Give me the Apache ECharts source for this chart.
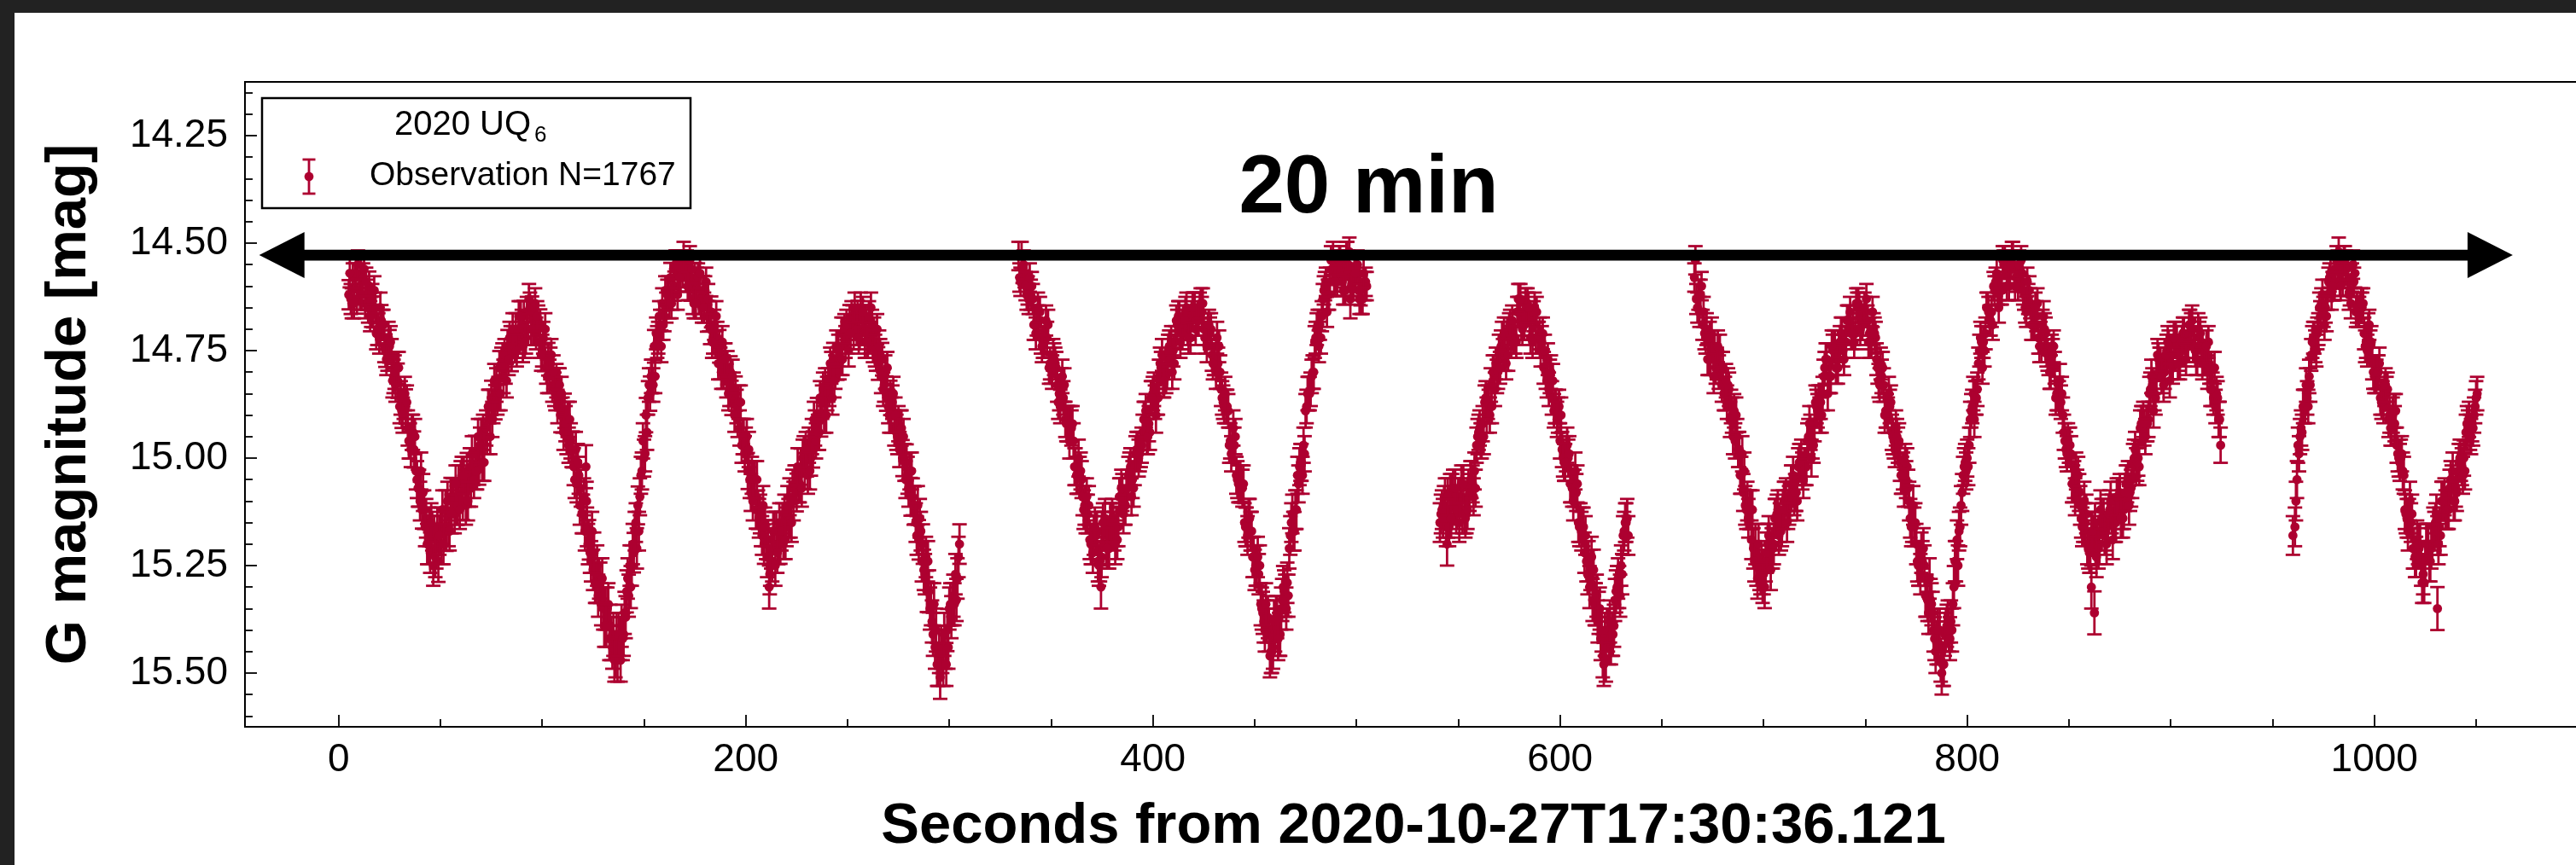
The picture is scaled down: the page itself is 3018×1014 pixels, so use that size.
<!DOCTYPE html>
<html>
<head>
<meta charset="utf-8">
<script src="https://cdn.jsdelivr.net/npm/echarts@6/dist/echarts.min.js"></script>
<style>
html,body{margin:0;padding:0;background:#fff;}
#c{width:3018px;height:1014px;}
</style>
</head>
<body>
<div id="c"></div>
<script>
// ---------------- DATA ----------------
// Each point: [seconds, G magnitude, 1-sigma error]
const segA = [
[5,14.62,.034],[7,14.58,.033],[9,14.63,.034],[11,14.57,.033],[13,14.64,.035],[15,14.60,.034],[17,14.66,.036],[19,14.70,.037],[21,14.68,.036],[23,14.75,.038],[25,14.74,.038],[27,14.81,.039],[29,14.82,.04],[31,14.89,.04],[33,14.88,.04],[35,14.96,.041],[37,14.98,.042],[39,15.07,.043],[41,15.12,.044],[43,15.14,.045],[45,15.22,.047],[47,15.18,.046],[49,15.24,.048],[51,15.12,.045],[53,15.17,.046],[55,15.09,.044],[57,15.13,.045],[59,15.06,.043],[61,15.10,.044],[63,15.03,.042],[65,15.07,.043],[67,14.99,.042],[69,15.02,.042],[71,14.94,.041],[73,14.95,.041],[75,14.86,.04],[77,14.87,.04],[79,14.79,.039],[81,14.81,.039],[83,14.74,.038],[85,14.76,.038],[87,14.70,.037],[89,14.72,.037],[91,14.67,.036],[93,14.70,.037],[95,14.66,.036],[97,14.71,.037],[99,14.69,.036],[101,14.76,.038],[103,14.77,.038],[105,14.83,.039],[107,14.82,.039],[109,14.90,.04],[111,14.89,.04],[113,14.97,.041],[115,14.98,.042],[117,15.06,.043],[119,15.07,.043],[121,15.17,.045],[121.5,15.02,.05],[123,15.19,.046],[125,15.26,.047],[127,15.25,.047],[129,15.34,.049],[131,15.35,.049],[133,15.42,.05],[135,15.41,.05],[137,15.47,.05],[139,15.39,.049],[141,15.37,.049],[143,15.25,.047],[145,15.22,.046],[147,15.11,.044],[149,15.03,.043],[151,14.90,.04],[153,14.85,.04],[155,14.74,.038],[157,14.72,.037],[159,14.64,.035],[161,14.65,.035],[163,14.58,.034],[165,14.60,.034],[167,14.55,.033],[169,14.57,.033],[171,14.55,.033],[173,14.60,.034],[175,14.58,.034],[177,14.63,.035],[179,14.61,.034],[181,14.67,.036],[183,14.66,.036],[185,14.73,.037],[187,14.74,.038],[189,14.80,.039],[191,14.79,.039],[193,14.86,.04],[195,14.85,.04],[197,14.93,.041],[199,14.95,.041],[201,15.03,.042],[203,15.04,.043],[205,15.12,.044],[207,15.13,.045],[209,15.20,.046],[211,15.19,.046],[211.5,15.30,.05],[213,15.24,.047],[215,15.17,.045],[217,15.20,.046],[219,15.13,.045],[221,15.14,.045],[223,15.07,.043],[225,15.08,.044],[227,15.02,.042],[229,15.03,.042],[231,14.97,.041],[233,14.98,.042],[235,14.90,.04],[237,14.91,.04],[239,14.83,.039],[241,14.84,.039],[243,14.77,.038],[245,14.78,.038],[247,14.71,.037],[249,14.73,.037],[251,14.68,.036],[253,14.71,.037],[255,14.67,.036],[257,14.70,.037],[259,14.68,.036],[261,14.72,.037],[263,14.71,.037],[265,14.78,.038],[267,14.77,.038],[269,14.85,.04],[271,14.86,.04],[273,14.93,.041],[275,14.92,.041],[277,15.00,.042],[279,15.01,.042],[281,15.09,.044],[283,15.11,.044],[285,15.19,.046],[287,15.20,.046],[289,15.31,.048],[291,15.34,.049],[293,15.44,.05],[295,15.45,.05],[297,15.48,.05],[299,15.40,.049],[301,15.37,.049],[303,15.27,.047],[305,15.20,.046],
[6,14.63,.035],[8,14.58,.033],[10,14.61,.033],[12,14.58,.033],[14,14.62,.035],[16,14.66,.035],[18,14.65,.035],[20,14.72,.037],[22,14.69,.035],[24,14.76,.037],[26,14.76,.037],[28,14.83,.039],[30,14.88,.039],[32,14.87,.039],[34,14.93,.041],[36,14.94,.041],[38,15.03,.043],[40,15.10,.045],[42,15.12,.045],[44,15.20,.047],[46,15.17,.045],[48,15.21,.047],[50,15.16,.045],[52,15.17,.045],[54,15.16,.045],[56,15.09,.043],[58,15.11,.045],[60,15.05,.043],[62,15.07,.043],[64,15.07,.043],[66,15.02,.043],[68,15.03,.043],[70,14.95,.041],[72,14.95,.041],[74,14.88,.039],[76,14.88,.039],[78,14.86,.039],[80,14.78,.037],[82,14.79,.037],[84,14.72,.037],[86,14.73,.037],[88,14.73,.037],[90,14.69,.035],[92,14.72,.037],[94,14.65,.035],[96,14.70,.037],[98,14.68,.035],[100,14.75,.037],[102,14.79,.037],[104,14.78,.037],[106,14.84,.039],[108,14.83,.039],[110,14.90,.041],[112,14.95,.041],[114,14.96,.041],[116,15.05,.043],[118,15.04,.043],[120,15.13,.045],[122,15.16,.045],[124,15.24,.047],[126,15.29,.047],[128,15.28,.047],[130,15.35,.049],[132,15.35,.049],[134,15.42,.05],[136,15.46,.05],[138,15.42,.05],[140,15.41,.05],[142,15.28,.047],[144,15.25,.047],[146,15.15,.045],[148,15.09,.043],[150,15.00,.043],[152,14.86,.039],[154,14.81,.039],[156,14.71,.037],[158,14.69,.035],[160,14.67,.035],[162,14.61,.033],[164,14.62,.035],[166,14.55,.033],[168,14.58,.033],[170,14.55,.033],[172,14.60,.033],[174,14.63,.035],[176,14.59,.033],[178,14.64,.035],[180,14.61,.033],[182,14.67,.035],[184,14.72,.037],[186,14.72,.037],[188,14.80,.039],[190,14.77,.037],[192,14.84,.039],[194,14.84,.039],[196,14.91,.041],[198,14.97,.041],[200,14.97,.041],[202,15.05,.043],[204,15.05,.043],[206,15.12,.045],[208,15.18,.045],[210,15.19,.045],[212,15.25,.047],[214,15.17,.045],[216,15.20,.047],[218,15.15,.045],[220,15.16,.045],[222,15.14,.045],[224,15.06,.043],[226,15.06,.043],[228,15.00,.043],[230,15.00,.043],[232,15.00,.041],[234,14.93,.041],[236,14.94,.041],[238,14.84,.039],[240,14.85,.039],[242,14.79,.037],[244,14.80,.039],[246,14.78,.037],[248,14.71,.037],[250,14.72,.037],[252,14.67,.035],[254,14.69,.035],[256,14.71,.037],[258,14.68,.035],[260,14.73,.037],[262,14.69,.035],[264,14.76,.037],[266,14.76,.037],[268,14.83,.039],[270,14.88,.039],[272,14.87,.039],[274,14.94,.041],[276,14.93,.041],[278,15.01,.043],[280,15.07,.043],[282,15.09,.043],[284,15.18,.045],[286,15.17,.045],[288,15.27,.047],[290,15.31,.049],[292,15.41,.05],[294,15.48,.05],[296,15.44,.05],[298,15.44,.05],[300,15.35,.049],[302,15.32,.049],[304,15.28,.047],
[6.5,14.64,.035],[8.5,14.57,.033],[10.5,14.62,.035],[12.5,14.56,.033],[14.5,14.65,.035],[16.5,14.63,.035],[18.5,14.71,.037],[20.5,14.65,.035],[22.5,14.74,.037],[24.5,14.72,.037],[26.5,14.82,.039],[28.5,14.79,.037],[30.5,14.86,.039],[32.5,14.85,.039],[34.5,14.96,.041],[36.5,14.94,.041],[38.5,15.05,.043],[40.5,15.03,.043],[42.5,15.16,.045],[44.5,15.16,.045],[46.5,15.25,.047],[48.5,15.16,.045],[50.5,15.20,.047],[52.5,15.12,.045],[54.5,15.17,.045],[56.5,15.09,.043],[58.5,15.11,.045],[60.5,15.04,.043],[62.5,15.11,.045],[64.5,15.02,.043],[66.5,15.05,.043],[68.5,14.95,.041],[70.5,15.01,.043],[72.5,14.93,.041],[74.5,14.95,.041],[76.5,14.82,.039],[78.5,14.85,.039],[80.5,14.77,.037],[82.5,14.82,.039],[84.5,14.73,.037],[86.5,14.74,.037],[88.5,14.67,.035],[90.5,14.74,.037],[92.5,14.66,.035],[94.5,14.70,.037],[96.5,14.64,.035],[98.5,14.73,.037],[100.5,14.72,.037],[102.5,14.81,.039],[104.5,14.76,.037],[106.5,14.85,.039],[108.5,14.83,.039],[110.5,14.94,.041],[112.5,14.91,.041],[114.5,14.98,.041],[116.5,14.98,.041],[118.5,15.11,.045],[120.5,15.09,.043],[122.5,15.20,.047],[124.5,15.17,.045],[126.5,15.29,.047],[128.5,15.29,.047],[130.5,15.39,.049],[132.5,15.34,.049],[134.5,15.44,.05],[136.5,15.41,.05],[138.5,15.47,.05],[140.5,15.36,.049],[142.5,15.32,.049],[144.5,15.20,.047],[146.5,15.21,.047],[148.5,15.04,.043],[150.5,14.99,.041],[152.5,14.83,.039],[154.5,14.83,.039],[156.5,14.73,.037],[158.5,14.74,.037],[160.5,14.61,.033],[162.5,14.64,.035],[164.5,14.56,.033],[166.5,14.62,.035],[168.5,14.55,.033],[170.5,14.58,.033],[172.5,14.54,.033],[174.5,14.64,.035],[176.5,14.58,.033],[178.5,14.65,.035],[180.5,14.59,.033],[182.5,14.70,.035],[184.5,14.69,.035],[186.5,14.78,.037],[188.5,14.73,.037],[190.5,14.82,.039],[192.5,14.80,.037],[194.5,14.90,.039],[196.5,14.87,.039],[198.5,14.95,.041],[200.5,14.95,.041],[202.5,15.08,.043],[204.5,15.05,.043],[206.5,15.14,.045],[208.5,15.11,.045],[210.5,15.23,.047],[212.5,15.21,.047],[214.5,15.25,.047],[216.5,15.15,.045],[218.5,15.19,.045],[220.5,15.11,.045],[222.5,15.15,.045],[224.5,15.06,.043],[226.5,15.06,.043],[228.5,14.99,.041],[230.5,15.04,.043],[232.5,14.95,.041],[234.5,14.96,.041],[236.5,14.86,.039],[238.5,14.90,.041],[240.5,14.83,.039],[242.5,14.86,.039],[244.5,14.74,.037],[246.5,14.77,.037],[248.5,14.70,.035],[250.5,14.75,.037],[252.5,14.68,.035],[254.5,14.70,.037],[256.5,14.65,.035],[258.5,14.73,.037],[260.5,14.67,.035],[262.5,14.74,.037],[264.5,14.70,.035],[266.5,14.81,.039],[268.5,14.80,.039],[270.5,14.90,.041],[272.5,14.85,.039],[274.5,14.95,.041],[276.5,14.93,.041],[278.5,15.05,.043],[280.5,15.03,.043],[282.5,15.11,.045],[284.5,15.11,.045],[286.5,15.24,.047],[288.5,15.23,.047],[290.5,15.35,.049],[292.5,15.34,.049],[294.5,15.48,.05],[296.5,15.45,.05],[298.5,15.48,.05],[300.5,15.34,.049],[302.5,15.34,.049],[304.5,15.23,.047],
[5.5,14.57,.033],[7.5,14.64,.035],[9.5,14.55,.033],[11.5,14.62,.035],[13.5,14.59,.033],[15.5,14.67,.035],[17.5,14.61,.033],[19.5,14.70,.037],[21.5,14.69,.035],[23.5,14.77,.037],[25.5,14.73,.037],[27.5,14.80,.039],[29.5,14.79,.037],[31.5,14.90,.041],[33.5,14.87,.039],[35.5,14.98,.041],[37.5,14.95,.041],[39.5,15.07,.043],[41.5,15.08,.043],[43.5,15.20,.047],[45.5,15.15,.045],[47.5,15.23,.047],[49.5,15.18,.045],[51.5,15.20,.047],[53.5,15.10,.045],[55.5,15.13,.045],[57.5,15.06,.043],[59.5,15.12,.045],[61.5,15.04,.043],[63.5,15.10,.045],[65.5,14.99,.041],[67.5,15.03,.043],[69.5,14.97,.041],[71.5,15.01,.043],[73.5,14.88,.039],[75.5,14.91,.041],[77.5,14.83,.039],[79.5,14.85,.039],[81.5,14.76,.037],[83.5,14.77,.037],[85.5,14.70,.037],[87.5,14.75,.037],[89.5,14.67,.035],[91.5,14.73,.037],[93.5,14.63,.035],[95.5,14.70,.037],[97.5,14.67,.035],[99.5,14.76,.037],[101.5,14.70,.037],[103.5,14.81,.039],[105.5,14.80,.039],[107.5,14.88,.039],[109.5,14.85,.039],[111.5,14.92,.041],[113.5,14.91,.041],[115.5,15.02,.043],[117.5,15.01,.043],[119.5,15.13,.045],[121.8,15.10,.045],[123.5,15.22,.047],[125.5,15.22,.047],[127.5,15.32,.049],[129.5,15.28,.047],[131.5,15.39,.049],[133.5,15.39,.049],[135.5,15.47,.05],[137.5,15.41,.05],[139.5,15.42,.05],[141.5,15.31,.049],[143.5,15.30,.049],[145.5,15.17,.045],[147.5,15.17,.045],[149.5,14.96,.041],[151.5,14.94,.041],[153.5,14.81,.039],[155.5,14.81,.039],[157.5,14.67,.035],[159.5,14.69,.035],[161.5,14.62,.035],[163.5,14.64,.035],[165.5,14.55,.033],[167.5,14.58,.033],[169.5,14.53,.033],[171.5,14.60,.033],[173.5,14.56,.033],[175.5,14.64,.035],[177.5,14.57,.033],[179.5,14.65,.035],[181.5,14.63,.035],[183.5,14.73,.037],[185.5,14.67,.035],[187.5,14.78,.037],[189.5,14.77,.037],[191.5,14.85,.039],[193.5,14.81,.039],[195.5,14.88,.039],[197.5,14.87,.039],[199.5,14.99,.041],[201.5,14.98,.041],[203.5,15.10,.045],[205.5,15.05,.043],[207.5,15.16,.045],[209.5,15.16,.045],[211.8,15.27,.047],[213.5,15.17,.045],[215.5,15.22,.047],[217.5,15.17,.045],[219.5,15.19,.045],[221.5,15.09,.043],[223.5,15.10,.045],[225.5,15.02,.043],[227.5,15.07,.043],[229.5,14.98,.041],[231.5,15.03,.043],[233.5,14.91,.041],[235.5,14.94,.041],[237.5,14.87,.039],[239.5,14.90,.041],[241.5,14.78,.037],[243.5,14.82,.039],[245.5,14.75,.037],[247.5,14.77,.037],[249.5,14.69,.035],[251.5,14.71,.037],[253.5,14.65,.035],[255.5,14.72,.037],[257.5,14.66,.035],[259.5,14.73,.037],[261.5,14.65,.035],[263.5,14.75,.037],[265.5,14.74,.037],[267.5,14.84,.039],[269.5,14.79,.037],[271.5,14.90,.041],[273.5,14.90,.041],[275.5,14.98,.041],[277.5,14.95,.041],[279.5,15.04,.043],[281.5,15.03,.043],[283.5,15.15,.045],[285.5,15.14,.045],[287.5,15.26,.047],[289.5,15.24,.047],[291.5,15.38,.049],[293.5,15.40,.05],[295.5,15.51,.05],[297.5,15.41,.05],[299.5,15.44,.05],[301.5,15.34,.049],[303.5,15.33,.049]
];
const segB = [
[334,14.53,.033],[336,14.56,.033],[338,14.62,.035],[340,14.62,.035],[342,14.69,.035],[344,14.68,.035],[346,14.73,.037],[348,14.72,.037],[350,14.79,.037],[352,14.78,.037],[354,14.85,.039],[356,14.86,.039],[358,14.92,.041],[360,14.93,.041],[362,15.02,.043],[364,15.04,.043],[366,15.12,.045],[368,15.13,.045],[370,15.20,.047],[372,15.18,.045],[374,15.24,.047],[374.5,15.30,.05],[376,15.17,.045],[378,15.20,.047],[380,15.14,.045],[382,15.16,.045],[384,15.09,.043],[386,15.11,.045],[388,15.04,.043],[390,15.05,.043],[392,14.98,.041],[394,14.98,.041],[396,14.91,.041],[398,14.92,.041],[400,14.85,.039],[402,14.86,.039],[404,14.79,.037],[406,14.80,.039],[408,14.74,.037],[410,14.75,.037],[412,14.69,.035],[414,14.71,.037],[416,14.66,.035],[418,14.69,.035],[420,14.65,.035],[422,14.68,.035],[424,14.66,.035],[426,14.72,.037],[428,14.71,.037],[430,14.77,.037],[432,14.78,.037],[434,14.86,.039],[436,14.88,.039],[438,14.96,.041],[440,14.97,.041],[442,15.06,.043],[444,15.07,.043],[446,15.16,.045],[448,15.17,.045],[450,15.26,.047],[452,15.27,.047],[454,15.36,.049],[456,15.38,.049],[458,15.45,.05],[460,15.40,.05],[462,15.41,.05],[464,15.30,.049],[466,15.29,.047],[468,15.15,.045],[470,15.12,.045],[472,15.02,.043],[474,14.97,.041],[476,14.85,.039],[478,14.81,.039],[480,14.72,.037],[482,14.69,.035],[484,14.61,.033],[486,14.62,.035],[488,14.56,.033],[490,14.58,.033],[492,14.54,.033],[494,14.57,.033],[496,14.55,.033],[497,14.63,.045],[498,14.59,.033],[500,14.56,.033],[502,14.61,.035],[504,14.60,.033],
[335,14.59,.033],[337,14.57,.033],[339,14.63,.035],[341,14.63,.035],[343,14.68,.035],[345,14.72,.037],[347,14.72,.037],[349,14.79,.037],[351,14.76,.037],[353,14.83,.039],[355,14.83,.039],[357,14.91,.041],[359,14.96,.041],[361,14.96,.041],[363,15.04,.043],[365,15.05,.043],[367,15.13,.045],[369,15.19,.045],[371,15.18,.045],[373,15.24,.047],[375,15.17,.045],[377,15.20,.047],[379,15.15,.045],[381,15.17,.045],[383,15.16,.045],[385,15.08,.043],[387,15.09,.043],[389,15.02,.043],[391,15.02,.043],[393,15.00,.043],[395,14.94,.041],[397,14.95,.041],[399,14.86,.039],[401,14.87,.039],[403,14.81,.039],[405,14.82,.039],[407,14.80,.039],[409,14.73,.037],[411,14.73,.037],[413,14.67,.035],[415,14.69,.035],[417,14.70,.037],[419,14.67,.035],[421,14.70,.037],[423,14.65,.035],[425,14.70,.037],[427,14.70,.037],[429,14.76,.037],[431,14.80,.039],[433,14.80,.039],[435,14.88,.039],[437,14.89,.039],[439,14.97,.041],[441,15.04,.043],[443,15.06,.043],[445,15.15,.045],[447,15.14,.045],[449,15.23,.047],[451,15.25,.047],[453,15.34,.049],[455,15.40,.05],[457,15.40,.05],[459,15.44,.05],[461,15.37,.049],[463,15.35,.049],[465,15.32,.049],[467,15.21,.047],[469,15.17,.045],[471,15.04,.043],[473,15.01,.043],[475,14.89,.039],[477,14.85,.039],[479,14.80,.039],[481,14.69,.035],[483,14.67,.035],[485,14.59,.033],[487,14.59,.033],[489,14.59,.033],[491,14.55,.033],[493,14.59,.033],[495,14.53,.033],[497,14.58,.033],[499,14.56,.033],[501,14.61,.033],[503,14.63,.035],[505,14.60,.033],
[334.5,14.58,.033],[336.5,14.55,.033],[338.5,14.61,.033],[340.5,14.60,.033],[342.5,14.71,.037],[344.5,14.66,.035],[346.5,14.73,.037],[348.5,14.69,.035],[350.5,14.80,.039],[352.5,14.79,.037],[354.5,14.88,.039],[356.5,14.83,.039],[358.5,14.92,.041],[360.5,14.92,.041],[362.5,15.04,.043],[364.5,15.03,.043],[366.5,15.11,.045],[368.5,15.11,.045],[370.5,15.22,.047],[372.5,15.17,.045],[374.8,15.23,.047],[376.5,15.14,.045],[378.5,15.21,.047],[380.5,15.15,.045],[382.5,15.19,.045],[384.5,15.07,.043],[386.5,15.11,.045],[388.5,15.03,.043],[390.5,15.07,.043],[392.5,14.98,.041],[394.5,14.97,.041],[396.5,14.89,.039],[398.5,14.94,.041],[400.5,14.84,.039],[402.5,14.86,.039],[404.5,14.76,.037],[406.5,14.81,.039],[408.5,14.75,.037],[410.5,14.78,.037],[412.5,14.67,.035],[414.5,14.71,.037],[416.5,14.65,.035],[418.5,14.72,.037],[420.5,14.65,.035],[422.5,14.68,.035],[424.5,14.64,.035],[426.5,14.74,.037],[428.5,14.70,.037],[430.5,14.77,.037],[432.5,14.74,.037],[434.5,14.87,.039],[436.5,14.88,.039],[438.5,14.99,.041],[440.5,14.95,.041],[442.5,15.06,.043],[444.5,15.06,.043],[446.5,15.18,.045],[448.5,15.17,.045],[450.5,15.25,.047],[452.5,15.25,.047],[454.5,15.38,.049],[456.5,15.37,.049],[458.5,15.45,.05],[460.5,15.37,.049],[462.5,15.41,.05],[464.5,15.31,.049],[466.5,15.32,.049],[468.5,15.13,.045],[470.5,15.12,.045],[472.5,15.01,.043],[474.5,14.99,.041],[476.5,14.85,.039],[478.5,14.80,.039],[480.5,14.70,.037],[482.5,14.72,.037],[484.5,14.60,.033],[486.5,14.62,.035],[488.5,14.53,.033],[490.5,14.59,.033],[492.5,14.55,.033],[494.5,14.61,.033],[496.5,14.52,.033],[498.5,14.59,.033],[500.5,14.55,.033],[502.5,14.63,.035],[504.5,14.59,.033],
[335.5,14.53,.033],[337.5,14.60,.033],[339.5,14.58,.033],[341.5,14.69,.035],[343.5,14.65,.035],[345.5,14.74,.037],[347.5,14.68,.035],[349.5,14.78,.037],[351.5,14.77,.037],[353.5,14.87,.039],[355.5,14.81,.039],[357.5,14.92,.041],[359.5,14.92,.041],[361.5,15.02,.043],[363.5,15.00,.043],[365.5,15.09,.043],[367.5,15.09,.043],[369.5,15.20,.047],[371.5,15.16,.045],[373.5,15.25,.047],[375.5,15.15,.045],[377.5,15.21,.047],[379.5,15.15,.045],[381.5,15.20,.047],[383.5,15.09,.043],[385.5,15.13,.045],[387.5,15.07,.043],[389.5,15.09,.043],[391.5,14.99,.041],[393.5,14.99,.041],[395.5,14.91,.041],[397.5,14.95,.041],[399.5,14.86,.039],[401.5,14.90,.041],[403.5,14.78,.037],[405.5,14.82,.039],[407.5,14.75,.037],[409.5,14.80,.039],[411.5,14.68,.035],[413.5,14.73,.037],[415.5,14.68,.035],[417.5,14.72,.037],[419.5,14.65,.035],[421.5,14.68,.035],[423.5,14.64,.035],[425.5,14.72,.037],[427.5,14.69,.035],[429.5,14.78,.037],[431.5,14.72,.037],[433.5,14.84,.039],[435.5,14.85,.039],[437.5,14.97,.041],[439.5,14.93,.041],[441.5,15.05,.043],[443.5,15.06,.043],[445.5,15.16,.045],[447.5,15.14,.045],[449.5,15.23,.047],[451.5,15.23,.047],[453.5,15.35,.049],[455.5,15.34,.049],[457.5,15.46,.05],[459.5,15.38,.049],[461.5,15.42,.05],[463.5,15.33,.049],[465.5,15.35,.049],[467.5,15.18,.045],[469.5,15.17,.045],[471.5,15.06,.043],[473.5,15.04,.043],[475.5,14.88,.039],[477.5,14.84,.039],[479.5,14.73,.037],[481.5,14.74,.037],[483.5,14.63,.035],[485.5,14.66,.035],[487.5,14.54,.033],[489.5,14.59,.033],[491.5,14.54,.033],[493.5,14.61,.033],[495.5,14.53,.033],[497.5,14.60,.033],[499.5,14.57,.033],[501.5,14.63,.035],[503.5,14.57,.033]
];
const segC = [
[541,15.15,.045],[543,15.11,.045],[544.5,15.20,.05],[545,15.14,.045],[547,15.08,.043],[549,15.13,.045],[551,15.09,.043],[553,15.13,.045],[555,15.07,.043],[557,15.06,.043],[559,14.97,.041],[561,14.96,.041],[563,14.87,.039],[565,14.88,.039],[567,14.80,.039],[569,14.81,.039],[571,14.74,.037],[573,14.76,.037],[575,14.70,.037],[577,14.72,.037],[579,14.66,.035],[581,14.69,.035],[583,14.64,.035],[585,14.68,.035],[587,14.67,.035],[589,14.72,.037],[591,14.73,.037],[593,14.80,.039],[595,14.81,.039],[597,14.89,.039],[599,14.90,.041],[601,14.98,.041],[603,14.99,.041],[605,15.06,.043],[607,15.07,.043],[609,15.15,.045],[611,15.16,.045],[613,15.24,.047],[615,15.26,.047],[617,15.34,.049],[619,15.36,.049],[621,15.46,.05],[623,15.40,.05],[625,15.43,.05],[627,15.33,.049],[629,15.30,.049],[631,15.18,.045],[633,15.14,.045],
[542,15.12,.045],[544,15.16,.045],[546,15.08,.043],[548,15.11,.045],[550,15.09,.043],[552,15.13,.045],[554,15.13,.045],[556,15.05,.043],[558,15.03,.043],[560,14.94,.041],[562,14.92,.041],[564,14.90,.041],[566,14.83,.039],[568,14.84,.039],[570,14.75,.037],[572,14.76,.037],[574,14.71,.037],[576,14.73,.037],[578,14.72,.037],[580,14.66,.035],[582,14.68,.035],[584,14.64,.035],[586,14.68,.035],[588,14.72,.037],[590,14.71,.037],[592,14.79,.037],[594,14.77,.037],[596,14.86,.039],[598,14.88,.039],[600,14.96,.041],[602,15.01,.043],[604,15.00,.043],[606,15.07,.043],[608,15.08,.043],[610,15.15,.045],[612,15.22,.047],[614,15.24,.047],[616,15.33,.049],[618,15.32,.049],[620,15.42,.05],[622,15.41,.05],[624,15.43,.05],[626,15.41,.05],[628,15.30,.049],[630,15.25,.047],[632,15.15,.045],
[541.5,15.13,.045],[543.5,15.09,.043],[545.5,15.16,.045],[547.5,15.07,.043],[549.5,15.12,.045],[551.5,15.06,.043],[553.5,15.14,.045],[555.5,15.08,.043],[557.5,15.09,.043],[559.5,14.95,.041],[561.5,14.96,.041],[563.5,14.86,.039],[565.5,14.90,.041],[567.5,14.80,.039],[569.5,14.80,.039],[571.5,14.72,.037],[573.5,14.78,.037],[575.5,14.69,.035],[577.5,14.72,.037],[579.5,14.63,.035],[581.5,14.70,.037],[583.5,14.65,.035],[585.5,14.72,.037],[587.5,14.65,.035],[589.5,14.72,.037],[591.5,14.71,.037],[593.5,14.82,.039],[595.5,14.80,.039],[597.5,14.88,.039],[599.5,14.88,.039],[601.5,15.00,.043],[603.5,14.97,.041],[605.5,15.06,.043],[607.5,15.03,.043],[609.5,15.16,.045],[611.5,15.16,.045],[613.5,15.27,.047],[615.5,15.23,.047],[617.5,15.34,.049],[619.5,15.35,.049],[621.5,15.48,.05],[623.5,15.40,.05],[625.5,15.41,.05],[627.5,15.31,.049],[629.5,15.32,.049],[631.5,15.17,.045],[633.5,15.18,.045],
[542.5,15.14,.045],[544.8,15.09,.043],[546.5,15.14,.045],[548.5,15.07,.043],[550.5,15.15,.045],[552.5,15.06,.043],[554.5,15.12,.045],[556.5,15.05,.043],[558.5,15.07,.043],[560.5,14.93,.041],[562.5,14.95,.041],[564.5,14.87,.039],[566.5,14.88,.039],[568.5,14.78,.037],[570.5,14.79,.037],[572.5,14.71,.037],[574.5,14.76,.037],[576.5,14.68,.035],[578.5,14.73,.037],[580.5,14.63,.035],[582.5,14.69,.035],[584.5,14.65,.035],[586.5,14.73,.037],[588.5,14.66,.035],[590.5,14.75,.037],[592.5,14.75,.037],[594.5,14.84,.039],[596.5,14.82,.039],[598.5,14.91,.041],[600.5,14.90,.041],[602.5,15.01,.043],[604.5,14.99,.041],[606.5,15.10,.045],[608.5,15.06,.043],[610.5,15.17,.045],[612.5,15.18,.045],[614.5,15.30,.049],[616.5,15.26,.047],[618.5,15.38,.049],[620.5,15.40,.05],[622.5,15.47,.05],[624.5,15.38,.049],[626.5,15.39,.049],[628.5,15.28,.047],[630.5,15.27,.047],[632.5,15.15,.045]
];
const segD = [
[666,14.58,.033],[668,14.62,.035],[670,14.69,.035],[672,14.70,.037],[674,14.77,.037],[676,14.75,.037],[678,14.80,.039],[680,14.79,.037],[682,14.87,.039],[684,14.88,.039],[686,14.96,.041],[688,14.98,.041],[690,15.08,.043],[692,15.10,.045],[694,15.19,.045],[696,15.20,.047],[698,15.26,.047],[700,15.27,.047],[702,15.20,.047],[704,15.21,.047],[706,15.14,.045],[708,15.15,.045],[710,15.10,.045],[712,15.12,.045],[714,15.06,.043],[716,15.08,.043],[718,15.01,.043],[720,15.02,.043],[722,14.95,.041],[724,14.96,.041],[726,14.88,.039],[728,14.87,.039],[730,14.79,.037],[732,14.81,.039],[734,14.75,.037],[736,14.77,.037],[738,14.71,.037],[740,14.73,.037],[742,14.68,.035],[744,14.70,.037],[746,14.65,.035],[748,14.69,.035],[750,14.66,.035],[752,14.71,.037],[754,14.70,.037],[756,14.79,.037],[758,14.81,.039],[760,14.89,.039],[762,14.88,.039],[764,14.96,.041],[766,14.97,.041],[768,15.04,.043],[770,15.05,.043],[772,15.14,.045],[774,15.16,.045],[776,15.25,.047],[778,15.24,.047],[780,15.32,.049],[782,15.33,.049],[784,15.42,.05],[786,15.43,.05],[788,15.48,.05],[790,15.39,.049],[792,15.38,.049],[794,15.24,.047],[796,15.17,.045],[798,15.04,.043],[800,15.00,.043],[802,14.89,.039],[804,14.86,.039],[806,14.75,.037],[808,14.73,.037],[810,14.65,.035],[812,14.66,.035],[814,14.59,.033],[816,14.60,.033],[818,14.55,.033],[820,14.57,.033],[822,14.53,.033],[824,14.58,.033],[826,14.56,.033],[828,14.62,.035],[830,14.63,.035],[832,14.69,.035],[834,14.67,.035],[836,14.72,.037],[838,14.70,.037],[840,14.77,.037],[842,14.76,.037],[844,14.85,.039],[846,14.87,.039],[848,14.96,.041],[850,14.97,.041],[852,15.06,.043],[854,15.07,.043],[856,15.14,.045],[858,15.15,.045],[860,15.22,.047],[861,15.30,.05],[862,15.18,.045],[862.5,15.36,.05],[864,15.20,.047],[866,15.14,.045],[868,15.17,.045],[870,15.12,.045],[872,15.15,.045],[874,15.10,.045],[876,15.12,.045],[878,15.06,.043],[880,15.08,.043],[882,15.00,.043],[884,15.00,.041],[886,14.92,.041],[888,14.92,.041],[890,14.84,.039],[892,14.85,.039],[894,14.77,.037],[896,14.80,.039],[898,14.75,.037],[900,14.78,.037],[902,14.73,.037],[904,14.76,.037],[906,14.71,.037],[908,14.74,.037],[910,14.70,.037],[912,14.75,.037],[914,14.72,.037],[916,14.77,.037],[918,14.80,.039],[920,14.79,.037],[922,14.88,.039],[924,14.91,.041],
[667,14.63,.035],[669,14.62,.035],[671,14.71,.037],[673,14.77,.037],[675,14.74,.037],[677,14.78,.037],[679,14.79,.037],[681,14.85,.039],[683,14.84,.039],[685,14.95,.041],[687,14.95,.041],[689,15.04,.043],[691,15.11,.045],[693,15.12,.045],[695,15.21,.047],[697,15.28,.047],[699,15.25,.047],[701,15.24,.047],[703,15.20,.047],[705,15.20,.047],[707,15.12,.045],[709,15.16,.045],[711,15.09,.043],[713,15.10,.045],[715,15.09,.043],[717,15.02,.043],[719,15.03,.043],[721,15.02,.043],[723,14.94,.041],[725,14.92,.041],[727,14.87,.039],[729,14.85,.039],[731,14.77,.037],[733,14.81,.039],[735,14.74,.037],[737,14.75,.037],[739,14.75,.037],[741,14.68,.035],[743,14.71,.037],[745,14.71,.037],[747,14.65,.035],[749,14.68,.035],[751,14.68,.035],[753,14.73,.037],[755,14.72,.037],[757,14.83,.039],[759,14.83,.039],[761,14.90,.041],[763,14.94,.041],[765,14.93,.041],[767,15.01,.043],[769,15.07,.043],[771,15.07,.043],[773,15.15,.045],[775,15.20,.047],[777,15.27,.047],[779,15.25,.047],[781,15.36,.049],[783,15.36,.049],[785,15.43,.05],[787,15.47,.05],[789,15.41,.05],[791,15.40,.05],[793,15.34,.049],[795,15.19,.045],[797,15.11,.045],[799,15.01,.043],[801,14.97,.041],[803,14.85,.039],[805,14.84,.039],[807,14.73,.037],[809,14.71,.037],[811,14.68,.035],[813,14.60,.033],[815,14.61,.033],[817,14.61,.033],[819,14.55,.033],[821,14.56,.033],[823,14.55,.033],[825,14.60,.033],[827,14.57,.033],[829,14.66,.035],[831,14.64,.035],[833,14.69,.035],[835,14.72,.037],[837,14.69,.035],[839,14.75,.037],[841,14.80,.039],[843,14.79,.037],[845,14.86,.039],[847,14.90,.041],[849,14.99,.041],[851,14.99,.041],[853,15.09,.043],[855,15.08,.043],[857,15.15,.045],[859,15.20,.047],[861,15.17,.045],[863,15.20,.047],[865,15.20,.047],[867,15.14,.045],[869,15.15,.045],[871,15.13,.045],[873,15.15,.045],[875,15.08,.043],[877,15.12,.045],[879,15.05,.043],[881,15.05,.043],[883,15.02,.043],[885,14.93,.041],[887,14.93,.041],[889,14.91,.041],[891,14.83,.039],[893,14.81,.039],[895,14.78,.037],[897,14.80,.039],[899,14.74,.037],[901,14.79,.037],[903,14.73,.037],[905,14.75,.037],[907,14.75,.037],[909,14.69,.035],[911,14.74,.037],[913,14.77,.037],[915,14.73,.037],[917,14.77,.037],[919,14.79,.037],[921,14.86,.039],[923,14.86,.039],
[666.5,14.54,.033],[668.5,14.66,.035],[670.5,14.66,.035],[672.5,14.77,.037],[674.5,14.71,.037],[676.5,14.79,.037],[678.5,14.75,.037],[680.5,14.85,.039],[682.5,14.83,.039],[684.5,14.90,.041],[686.5,14.90,.041],[688.5,15.04,.043],[690.5,15.03,.043],[692.5,15.14,.045],[694.5,15.12,.045],[696.5,15.25,.047],[698.5,15.27,.047],[700.5,15.30,.049],[702.5,15.18,.045],[704.5,15.21,.047],[706.5,15.13,.045],[708.5,15.17,.045],[710.5,15.10,.045],[712.5,15.11,.045],[714.5,15.04,.043],[716.5,15.10,.045],[718.5,15.00,.043],[720.5,15.02,.043],[722.5,14.92,.041],[724.5,14.97,.041],[726.5,14.89,.039],[728.5,14.90,.041],[730.5,14.77,.037],[732.5,14.81,.039],[734.5,14.74,.037],[736.5,14.79,.037],[738.5,14.71,.037],[740.5,14.73,.037],[742.5,14.66,.035],[744.5,14.73,.037],[746.5,14.64,.035],[748.5,14.69,.035],[750.5,14.63,.035],[752.5,14.73,.037],[754.5,14.71,.037],[756.5,14.82,.039],[758.5,14.79,.037],[760.5,14.89,.039],[762.5,14.87,.039],[764.5,14.98,.041],[766.5,14.96,.041],[768.5,15.03,.043],[770.5,15.02,.043],[772.5,15.16,.045],[774.5,15.15,.045],[776.5,15.25,.047],[778.5,15.21,.047],[780.5,15.33,.049],[782.5,15.34,.049],[784.5,15.45,.05],[786.5,15.40,.05],[788.5,15.48,.05],[790.5,15.38,.049],[792.5,15.40,.05],[794.5,15.24,.047],[796.5,15.16,.045],[798.5,15.02,.043],[800.5,15.02,.043],[802.5,14.88,.039],[804.5,14.86,.039],[806.5,14.72,.037],[808.5,14.75,.037],[810.5,14.66,.035],[812.5,14.69,.035],[814.5,14.57,.033],[816.5,14.61,.033],[818.5,14.54,.033],[820.5,14.60,.033],[822.5,14.53,.033],[824.5,14.58,.033],[826.5,14.54,.033],[828.5,14.65,.035],[830.5,14.61,.033],[832.5,14.69,.035],[834.5,14.64,.035],[836.5,14.74,.037],[838.5,14.71,.037],[840.5,14.80,.039],[842.5,14.74,.037],[844.5,14.85,.039],[846.5,14.85,.039],[848.5,14.98,.041],[850.5,14.97,.041],[852.5,15.05,.043],[854.5,15.04,.043],[856.5,15.16,.045],[858.5,15.13,.045],[860.5,15.22,.047],[862.8,15.15,.045],[864.5,15.21,.047],[866.5,15.15,.045],[868.5,15.20,.047],[870.5,15.10,.045],[872.5,15.15,.045],[874.5,15.09,.043],[876.5,15.14,.045],[878.5,15.06,.043],[880.5,15.07,.043],[882.5,14.98,.041],[884.5,15.02,.043],[886.5,14.91,.041],[888.5,14.92,.041],[890.5,14.81,.039],[892.5,14.86,.039],[894.5,14.78,.037],[896.5,14.83,.039],[898.5,14.73,.037],[900.5,14.78,.037],[902.5,14.72,.037],[904.5,14.78,.037],[906.5,14.71,.037],[908.5,14.73,.037],[910.5,14.68,.035],[912.5,14.77,.037],[914.5,14.71,.037],[916.5,14.77,.037],[918.5,14.73,.037],[920.5,14.84,.039],[922.5,14.85,.039],[924.5,14.97,.041],
[667.5,14.65,.035],[669.5,14.60,.033],[671.5,14.72,.037],[673.5,14.72,.037],[675.5,14.81,.039],[677.5,14.74,.037],[679.5,14.83,.039],[681.5,14.82,.039],[683.5,14.91,.041],[685.5,14.89,.039],[687.5,14.98,.041],[689.5,14.99,.041],[691.5,15.12,.045],[693.5,15.12,.045],[695.5,15.24,.047],[697.5,15.20,.047],[699.5,15.29,.047],[701.5,15.22,.047],[703.5,15.26,.047],[705.5,15.14,.045],[707.5,15.18,.045],[709.5,15.12,.045],[711.5,15.15,.045],[713.5,15.06,.043],[715.5,15.08,.043],[717.5,15.01,.043],[719.5,15.05,.043],[721.5,14.96,.041],[723.5,15.00,.043],[725.5,14.87,.039],[727.5,14.90,.041],[729.5,14.81,.039],[731.5,14.85,.039],[733.5,14.74,.037],[735.5,14.79,.037],[737.5,14.73,.037],[739.5,14.77,.037],[741.5,14.68,.035],[743.5,14.71,.037],[745.5,14.64,.035],[747.5,14.70,.037],[749.5,14.65,.035],[751.5,14.73,.037],[753.5,14.66,.035],[755.5,14.77,.037],[757.5,14.78,.037],[759.5,14.90,.041],[761.5,14.85,.039],[763.5,14.95,.041],[765.5,14.95,.041],[767.5,15.04,.043],[769.5,15.01,.043],[771.5,15.10,.045],[773.5,15.11,.045],[775.5,15.24,.047],[777.5,15.22,.047],[779.5,15.32,.049],[781.5,15.28,.047],[783.5,15.40,.05],[785.5,15.40,.05],[787.5,15.50,.05],[789.5,15.40,.05],[791.5,15.42,.05],[793.5,15.30,.049],[795.5,15.25,.047],[797.5,15.08,.043],[799.5,15.03,.043],[801.5,14.91,.041],[803.5,14.91,.041],[805.5,14.78,.037],[807.5,14.79,.037],[809.5,14.65,.035],[811.5,14.68,.035],[813.5,14.61,.033],[815.5,14.65,.035],[817.5,14.54,.033],[819.5,14.60,.033],[821.5,14.55,.033],[823.5,14.60,.033],[825.5,14.55,.033],[827.5,14.61,.033],[829.5,14.59,.033],[831.5,14.69,.035],[833.5,14.65,.035],[835.5,14.74,.037],[837.5,14.67,.035],[839.5,14.76,.037],[841.5,14.75,.037],[843.5,14.86,.039],[845.5,14.82,.039],[847.5,14.94,.041],[849.5,14.96,.041],[851.5,15.06,.043],[853.5,15.03,.043],[855.5,15.11,.045],[857.5,15.10,.045],[859.5,15.21,.047],[861.5,15.17,.045],[863.5,15.23,.047],[865.5,15.12,.045],[867.5,15.18,.045],[869.5,15.13,.045],[871.5,15.19,.045],[873.5,15.09,.043],[875.5,15.14,.045],[877.5,15.08,.043],[879.5,15.11,.045],[881.5,15.01,.043],[883.5,15.01,.043],[885.5,14.92,.041],[887.5,14.95,.041],[889.5,14.85,.039],[891.5,14.89,.039],[893.5,14.76,.037],[895.5,14.81,.039],[897.5,14.76,.037],[899.5,14.82,.039],[901.5,14.72,.037],[903.5,14.78,.037],[905.5,14.73,.037],[907.5,14.77,.037],[909.5,14.69,.035],[911.5,14.74,.037],[913.5,14.70,.037],[915.5,14.78,.037],[917.5,14.74,.037],[919.5,14.84,.039],[921.5,14.79,.037],[923.5,14.91,.041]
];
const segE = [
[960,15.18,.045],[961,15.16,.045],[962,15.05,.043],[963,14.99,.041],[964,14.93,.041],[966,14.88,.039],[968,14.81,.039],[970,14.72,.037],[972,14.71,.037],[974,14.64,.035],[976,14.65,.035],[978,14.58,.033],[980,14.60,.033],[982,14.55,.033],[984,14.57,.033],[986,14.55,.033],[988,14.61,.035],[990,14.59,.033],[992,14.66,.035],[994,14.65,.035],[996,14.73,.037],[998,14.74,.037],[1000,14.81,.039],[1002,14.80,.039],[1004,14.86,.039],[1006,14.85,.039],[1008,14.93,.041],[1010,14.92,.041],[1012,15.00,.043],[1014,15.03,.043],[1016,15.14,.045],[1018,15.15,.045],[1020,15.23,.047],[1022,15.21,.047],[1024,15.27,.047],[1026,15.20,.047],[1028,15.21,.047],[1030,15.15,.045],[1031,15.35,.05],[1032,15.16,.045],[1034,15.10,.045],[1036,15.12,.045],[1038,15.06,.043],[1040,15.07,.043],[1042,15.00,.043],[1044,15.00,.041],[1046,14.93,.041],[1048,14.92,.041],[1050,14.86,.039],
[965,14.88,.039],[967,14.86,.039],[969,14.76,.037],[971,14.74,.037],[973,14.65,.035],[975,14.66,.035],[977,14.62,.035],[979,14.62,.035],[981,14.56,.033],[983,14.59,.033],[985,14.54,.033],[987,14.59,.033],[989,14.58,.033],[991,14.66,.035],[993,14.65,.035],[995,14.71,.037],[997,14.70,.037],[999,14.78,.037],[1001,14.81,.039],[1003,14.86,.039],[1005,14.84,.039],[1007,14.91,.041],[1009,14.90,.041],[1011,14.97,.041],[1013,15.00,.043],[1015,15.12,.045],[1017,15.14,.045],[1019,15.21,.047],[1021,15.19,.045],[1023,15.25,.047],[1025,15.24,.047],[1027,15.24,.047],[1029,15.16,.045],[1031,15.18,.045],[1033,15.10,.045],[1035,15.12,.045],[1037,15.07,.043],[1039,15.10,.045],[1041,15.03,.043],[1043,15.02,.043],[1045,14.94,.041],[1047,14.94,.041],[1049,14.90,.041],
[962.5,14.97,.041],[964.5,14.94,.041],[966.5,14.83,.039],[968.5,14.83,.039],[970.5,14.72,.037],[972.5,14.70,.037],[974.5,14.62,.035],[976.5,14.67,.035],[978.5,14.57,.033],[980.5,14.60,.033],[982.5,14.52,.033],[984.5,14.59,.033],[986.5,14.56,.033],[988.5,14.64,.035],[990.5,14.57,.033],[992.5,14.66,.035],[994.5,14.64,.035],[996.5,14.75,.037],[998.5,14.73,.037],[1000.5,14.80,.039],[1002.5,14.78,.037],[1004.5,14.88,.039],[1006.5,14.84,.039],[1008.5,14.93,.041],[1010.5,14.89,.039],[1012.5,15.01,.043],[1014.5,15.04,.043],[1016.5,15.17,.045],[1018.5,15.13,.045],[1020.5,15.23,.047],[1022.5,15.20,.047],[1024.5,15.29,.047],[1026.5,15.20,.047],[1028.5,15.20,.047],[1030.5,15.13,.045],[1032.5,15.18,.045],[1034.5,15.09,.043],[1036.5,15.12,.045],[1038.5,15.03,.043],[1040.5,15.08,.043],[1042.5,15.01,.043],[1044.5,15.03,.043],[1046.5,14.91,.041],[1048.5,14.93,.041],[1050.5,14.85,.039],
[961.5,15.10,.045],[963.5,14.95,.041],[965.5,14.88,.039],[967.5,14.88,.039],[969.5,14.73,.037],[971.5,14.75,.037],[973.5,14.67,.035],[975.5,14.69,.035],[977.5,14.59,.033],[979.5,14.60,.033],[981.5,14.54,.033],[983.5,14.60,.033],[985.5,14.54,.033],[987.5,14.62,.035],[989.5,14.55,.033],[991.5,14.65,.035],[993.5,14.64,.035],[995.5,14.74,.037],[997.5,14.69,.035],[999.5,14.80,.039],[1001.5,14.80,.039],[1003.5,14.87,.039],[1005.5,14.83,.039],[1007.5,14.90,.041],[1009.5,14.89,.039],[1011.5,14.99,.041],[1013.5,14.99,.041],[1015.5,15.13,.045],[1017.5,15.10,.045],[1019.5,15.21,.047],[1021.5,15.20,.047],[1023.5,15.29,.047],[1025.5,15.20,.047],[1027.5,15.24,.047],[1029.5,15.17,.045],[1031.5,15.20,.047],[1033.5,15.10,.045],[1035.5,15.12,.045],[1037.5,15.05,.043],[1039.5,15.10,.045],[1041.5,15.01,.043],[1043.5,15.04,.043],[1045.5,14.92,.041],[1047.5,14.95,.041],[1049.5,14.88,.039]
];

// axis ranges and ticks
const xRange = [-46, 1102];
const yRange = [14.125, 15.625];
const xMajorTicks = [0, 200, 400, 600, 800, 1000];
const xMinorTicks = [50,100,150,250,300,350,450,500,550,650,700,750,850,900,950,1050];
const yMajorTicks = [14.25, 14.5, 14.75, 15.0, 15.25, 15.5];
const yMinorTicks = [14.15,14.2,14.3,14.35,14.4,14.45,14.55,14.6,14.65,14.7,14.8,14.85,14.9,14.95,15.05,15.1,15.15,15.2,15.3,15.35,15.4,15.45,15.55,15.6];

// "20 min" arrow annotation: [x start, x end, magnitude, label x]
const arrowSpan = [-39, 1068];
const arrowMag = 14.528;
const arrowLabelX = 506;
const arrowLabel = '20 min';

const legendTitle = '2020 UQ';
const legendTitleSub = '6';
const legendEntry = 'Observation N=1767';
const xTitle = 'Seconds from 2020-10-27T17:30:36.121';
const yTitle = 'G magnitude [mag]';

// ---------------- CHART ----------------
const FONT = '"Liberation Sans", Arial, Helvetica, sans-serif';
const RED = '#ad0030';
const points = [].concat(segA, segB, segC, segD, segE);

function renderPoint(params, api) {
  const t = api.value(0), m = api.value(1), e = api.value(2);
  const c = api.coord([t, m]);
  const hi = api.coord([t, m - e]);
  const lo = api.coord([t, m + e]);
  const x = c[0], cap = 8.5, lw = 2.8;
  return {
    type: 'group',
    children: [
      {type: 'line', shape: {x1: x, y1: hi[1], x2: x, y2: lo[1]}, style: {stroke: RED, lineWidth: lw}},
      {type: 'line', shape: {x1: x - cap, y1: hi[1], x2: x + cap, y2: hi[1]}, style: {stroke: RED, lineWidth: lw}},
      {type: 'line', shape: {x1: x - cap, y1: lo[1], x2: x + cap, y2: lo[1]}, style: {stroke: RED, lineWidth: lw}},
      {type: 'circle', shape: {cx: x, cy: c[1], r: 5.4}, style: {fill: RED}}
    ]
  };
}

function renderArrow(params, api) {
  const a = api.coord([api.value(0), api.value(2)]);
  const b = api.coord([api.value(1), api.value(2)]);
  const lab = api.coord([api.value(3), api.value(2)]);
  const y = a[1], hl = 53, hh = 27, sw = 12.6;
  return {
    type: 'group',
    children: [
      {type: 'rect', shape: {x: a[0] + hl - 1, y: y - sw / 2, width: b[0] - a[0] - 2 * hl + 2, height: sw}, style: {fill: '#000'}},
      {type: 'polygon', shape: {points: [[a[0], y], [a[0] + hl, y - hh], [a[0] + hl, y + hh]]}, style: {fill: '#000'}},
      {type: 'polygon', shape: {points: [[b[0], y], [b[0] - hl, y - hh], [b[0] - hl, y + hh]]}, style: {fill: '#000'}},
      {type: 'text', x: lab[0], y: y - 77, style: {text: arrowLabel, font: 'bold 96px ' + FONT, fill: '#000', align: 'center', verticalAlign: 'middle'}}
    ]
  };
}

const tickStyle = {color: '#000', width: 1.8};
const labelStyle = {fontFamily: FONT, fontSize: 46, color: '#000', lineHeight: 46};

const chart = echarts.init(document.getElementById('c'), null, {renderer: 'canvas', width: 3018, height: 1014, devicePixelRatio: 1});
chart.setOption({
  animation: false,
  backgroundColor: '#ffffff',
  grid: {left: 287, top: 96, right: -7, bottom: 162, show: true, borderColor: '#000', borderWidth: 2, backgroundColor: 'transparent', containLabel: false, outerBoundsMode: 'none'},
  xAxis: [
    {type: 'value', min: xRange[0], max: xRange[1], position: 'bottom', scale: true,
     axisLine: {show: false, onZero: false}, splitLine: {show: false},
     axisTick: {show: true, inside: true, length: 14, lineStyle: tickStyle, customValues: xMajorTicks},
     axisLabel: Object.assign({show: true, margin: 16, customValues: xMajorTicks, formatter: v => String(v)}, labelStyle)},
    {type: 'value', min: xRange[0], max: xRange[1], position: 'bottom', scale: true,
     axisLine: {show: false, onZero: false}, splitLine: {show: false},
     axisTick: {show: true, inside: true, length: 9, lineStyle: tickStyle, customValues: xMinorTicks},
     axisLabel: {show: false}}
  ],
  yAxis: [
    {type: 'value', min: yRange[0], max: yRange[1], inverse: true, position: 'left', scale: true,
     axisLine: {show: false, onZero: false}, splitLine: {show: false},
     axisTick: {show: true, inside: true, length: 14, lineStyle: tickStyle, customValues: yMajorTicks},
     axisLabel: Object.assign({show: true, margin: 20, customValues: yMajorTicks, formatter: v => v.toFixed(2)}, labelStyle)},
    {type: 'value', min: yRange[0], max: yRange[1], inverse: true, position: 'left', scale: true,
     axisLine: {show: false, onZero: false}, splitLine: {show: false},
     axisTick: {show: true, inside: true, length: 9, lineStyle: tickStyle, customValues: yMinorTicks},
     axisLabel: {show: false}}
  ],
  series: [
    {type: 'custom', name: legendEntry, xAxisIndex: 0, yAxisIndex: 0, renderItem: renderPoint,
     data: points, encode: {x: 0, y: 1}, z: 2, silent: true},
    {type: 'custom', name: 'arrow', xAxisIndex: 0, yAxisIndex: 0, renderItem: renderArrow,
     data: [[arrowSpan[0], arrowSpan[1], arrowMag, arrowLabelX]], encode: {x: [0, 1], y: 2}, z: 5, silent: true}
  ],
  graphic: [
    {type: 'rect', shape: {x: 0, y: 0, width: 3018, height: 15}, style: {fill: '#222222'}, z: 100},
    {type: 'rect', shape: {x: 0, y: 0, width: 17, height: 1014}, style: {fill: '#222222'}, z: 100},
    // legend
    {type: 'rect', shape: {x: 307, y: 115, width: 502, height: 129}, style: {fill: '#ffffff', stroke: '#000', lineWidth: 2.5}, z: 50},
    {type: 'text', x: 462, y: 147, style: {text: legendTitle, font: 'normal 40px ' + FONT, fill: '#000', align: 'left', verticalAlign: 'middle'}, z: 51},
    {type: 'text', x: 626, y: 159, style: {text: legendTitleSub, font: 'normal 26px ' + FONT, fill: '#000', align: 'left', verticalAlign: 'middle'}, z: 51},
    {type: 'line', shape: {x1: 362, y1: 187, x2: 362, y2: 227}, style: {stroke: RED, lineWidth: 2.8}, z: 51},
    {type: 'line', shape: {x1: 354.5, y1: 187, x2: 369.5, y2: 187}, style: {stroke: RED, lineWidth: 2.8}, z: 51},
    {type: 'line', shape: {x1: 354.5, y1: 227, x2: 369.5, y2: 227}, style: {stroke: RED, lineWidth: 2.8}, z: 51},
    {type: 'circle', shape: {cx: 362, cy: 207, r: 5.4}, style: {fill: RED}, z: 51},
    {type: 'text', x: 433, y: 206.5, style: {text: legendEntry, font: 'normal 39px ' + FONT, fill: '#000', align: 'left', verticalAlign: 'middle'}, z: 51},
    // axis titles
    {type: 'text', x: 1656, y: 970, style: {text: xTitle, font: 'bold 67px ' + FONT, fill: '#000', align: 'center', verticalAlign: 'middle'}, z: 51},
    {type: 'text', x: 82, y: 474, rotation: Math.PI / 2, style: {text: yTitle, font: 'bold 67px ' + FONT, fill: '#000', align: 'center', verticalAlign: 'middle'}, z: 51}
  ]
});
</script>
</body>
</html>
